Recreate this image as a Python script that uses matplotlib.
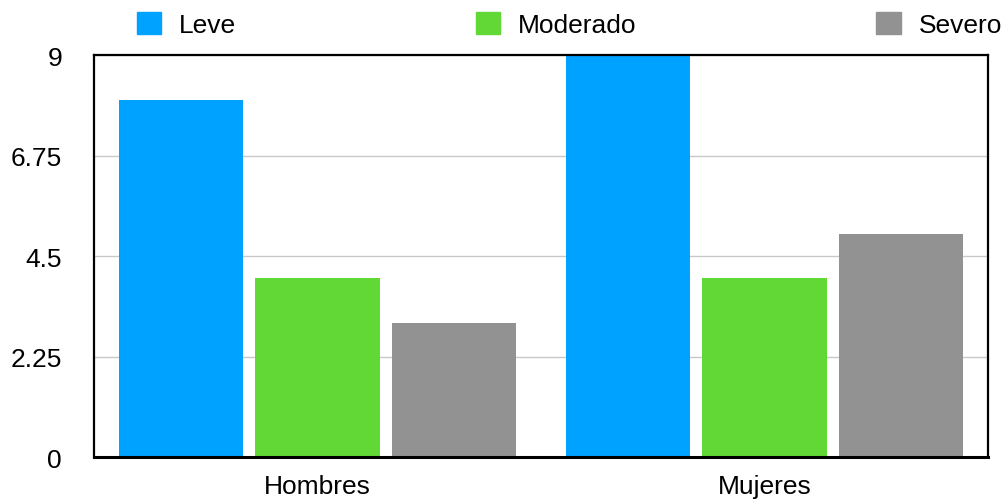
import matplotlib.pyplot as plt
import numpy as np
from matplotlib.patches import Patch

plt.rcParams['font.family'] = ['Liberation Sans', 'DejaVu Sans']

groups = ['Hombres', 'Mujeres']
series = ['Leve', 'Moderado', 'Severo']
leve = [8, 9]
moderado = [4, 4]
severo = [3, 5]
colors = ['#00A2FF', '#61D836', '#929292']
yticks = [0, 2.25, 4.5, 6.75, 9]
ytick_labels = ['0', '2.25', '4.5', '6.75', '9']

fig = plt.figure(figsize=(10.05, 5.02), dpi=100)
ax = fig.add_axes([0.0935, 0.0876, 0.8895, 0.8004])

x = np.arange(len(groups))
offset = 0.305
width = 0.278
for i, (vals, c) in enumerate(zip([leve, moderado, severo], colors)):
    ax.bar(x + (i - 1) * offset, vals, width, color=c, zorder=2)

ax.set_xlim(-0.5, 1.5)
ax.set_ylim(0, 9)
ax.set_yticks(yticks)
ax.set_yticklabels(ytick_labels)
ax.set_xticks(x)
ax.set_xticklabels(groups)
ax.tick_params(axis='both', length=0, labelsize=19)
ax.tick_params(axis='y', pad=23)
ax.tick_params(axis='x', pad=12)
ax.grid(axis='y', color='#c8c8c8', linewidth=1, zorder=0)

for s in ['left', 'top', 'right']:
    ax.spines[s].set_linewidth(1.6)
ax.spines['bottom'].set_linewidth(2.2)
for s in ax.spines.values():
    s.set_zorder(3)

handles = [Patch(color=c, label=s) for s, c in zip(series, colors)]
fig.legend(handles=handles, loc='upper left', bbox_to_anchor=(0.136, 0.975),
           ncol=3, frameon=False, fontsize=19, borderpad=0, borderaxespad=0,
           handlelength=0.91, handleheight=0.95, handletextpad=0.68,
           columnspacing=9.1)

fig.savefig('out.png', dpi=100)
